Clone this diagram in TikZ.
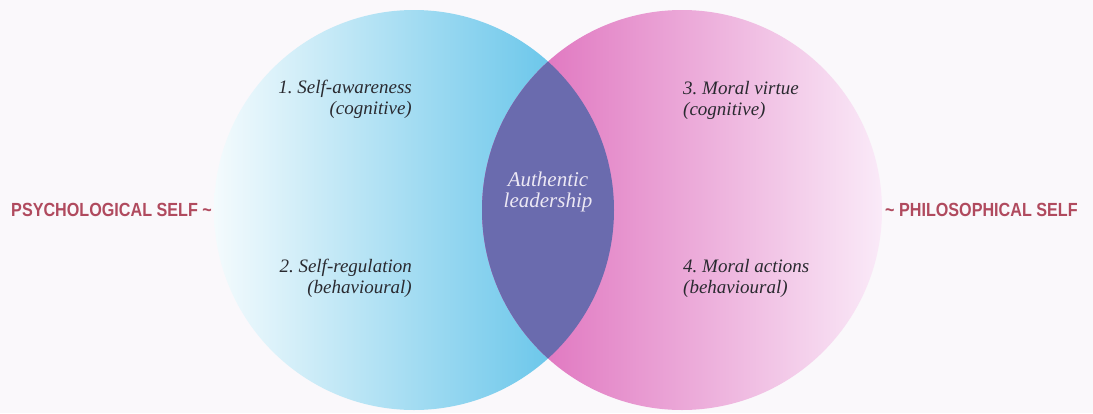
\documentclass[tikz,border=0pt]{standalone}
\usepackage{fontspec}
\setmainfont{Liberation Serif}
\newfontfamily\titlefont[FakeStretch=0.85]{Liberation Sans}
\frenchspacing

\definecolor{paper}{HTML}{FAF8FB}
\definecolor{skypale}{HTML}{F4FBFD}
\definecolor{skyblue}{HTML}{52BDE7}
\definecolor{rosepink}{HTML}{DC64B7}
\definecolor{rosepale}{HTML}{FAEAF8}
\definecolor{lensblue}{HTML}{6A6BAE}
\definecolor{titlered}{HTML}{B04A5E}
\definecolor{inkgray}{HTML}{2A2A30}
\definecolor{lenstext}{HTML}{ECE8F4}

\tikzset{
    sidetitle/.style={font=\titlefont\bfseries\fontsize{19}{21}\selectfont, text=titlered, inner sep=0pt},
    itemtext/.style={font=\itshape\fontsize{19}{21}\selectfont, text=inkgray, inner sep=0pt},
    lenslabel/.style={font=\itshape\fontsize{21}{21}\selectfont, text=lenstext, inner sep=0pt, align=center},
}

\begin{document}
\begin{tikzpicture}[x=1pt, y=-1pt]

    % 1. Nền giấy và khung cố định
    \fill[paper] (0, 0) rectangle (1093, 413);
    \useasboundingbox (0, 0) rectangle (1093, 413);

    % 2. Tâm hai đường tròn (bán kính 200)
    \coordinate (psych) at (414, 210);
    \coordinate (philo) at (682, 210);

    % 3. Tô hai đường tròn chuyển màu
    \shade[left color=skypale, middle color=skyblue!55!skypale, right color=skyblue] (psych) circle (200pt);
    \shade[left color=rosepink, middle color=rosepink!65!rosepale, right color=rosepale] (philo) circle (200pt);

    % 4. Miền giao nhau
    \begin{scope}
        \clip (psych) circle (200pt);
        \fill[lensblue] (philo) circle (200pt);
    \end{scope}

    % 5. Tiêu đề hai bên
    \node[sidetitle, anchor=base east] (psychtitle) at (212, 216) {PSYCHOLOGICAL SELF \textasciitilde};
    \node[sidetitle, anchor=base west] (philotitle) at (885, 216) {\textasciitilde\ PHILOSOPHICAL SELF};

    % 6. Các mục trong đường tròn trái
    \node[itemtext, align=right, anchor=base east] (awareness) at (412, 114) {1. Self-awareness\\(cognitive)};
    \node[itemtext, align=right, anchor=base east] (regulation) at (412, 293) {2. Self-regulation\\(behavioural)};

    % 7. Các mục trong đường tròn phải
    \node[itemtext, align=left, anchor=base west] (virtue) at (683, 115) {3. Moral virtue\\(cognitive)};
    \node[itemtext, align=left, anchor=base west] (actions) at (683, 293) {4. Moral actions\\(behavioural)};

    % 8. Nhãn ở giữa
    \node[lenslabel, anchor=base] (authentic) at (548, 207) {Authentic\\leadership};

\end{tikzpicture}
\end{document}
